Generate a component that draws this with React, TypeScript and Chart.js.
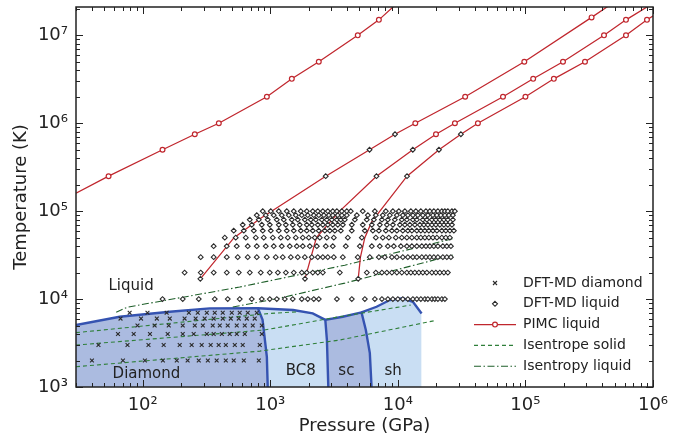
import React, { useEffect, useRef } from 'react';
import { Chart, registerables } from 'chart.js';

Chart.register(...registerables);

// ---------- axes ----------
const X_RANGE = [30, 1e6];
const Y_RANGE = [1e3, 2.1e7];
const X_MAJOR = [1e2, 1e3, 1e4, 1e5, 1e6];
const X_TICK_LABELS = ['10²', '10³', '10⁴', '10⁵', '10⁶'];
const Y_MAJOR = [1e3, 1e4, 1e5, 1e6, 1e7];
const Y_TICK_LABELS = ['10³', '10⁴', '10⁵', '10⁶', '10⁷'];
const X_TITLE = 'Pressure (GPa)';
const Y_TITLE = 'Temperature (K)';
const LEGEND_LABELS = ['DFT-MD diamond', 'DFT-MD liquid', 'PIMC liquid', 'Isentrope solid', 'Isentropy liquid'];

// ---------- DFT-MD diamond (pressure GPa per temperature row) ----------
const DIA_T = [2000, 3000, 4000, 5000, 6000, 7000];
const DIA_P_2000 = [40, 70, 104, 144, 185, 225, 275, 324, 380, 448, 517, 620, 813];
const DIA_P_3000 = [45, 76, 111, 146, 195, 242, 290, 341, 394, 448, 527, 608, 827];
const DIA_P_4000 = [64, 85, 114, 157, 206, 251, 318, 360, 417, 481, 546, 631, 858];
const DIA_P_5000 = [91, 124, 160, 206, 256, 296, 354, 402, 464, 546, 631, 729, 858];
const DIA_P_6000 = [67, 97, 129, 163, 213, 260, 306, 360, 424, 490, 566, 654, 755];
const DIA_P_7000 = [79, 109, 154, 230, 270, 318, 367, 424, 499, 576, 666, 784];
const DIA_P = [DIA_P_2000, DIA_P_3000, DIA_P_4000, DIA_P_5000, DIA_P_6000, DIA_P_7000];

// ---------- DFT-MD liquid ----------
const LIQ_T = [1e4, 2e4, 3e4, 4e4, 5e4, 6e4, 7e4, 8e4, 9e4, 1e5];
const LIQ_P_10K = [143, 206, 275, 367, 464, 576, 716, 858, 991, 1125, 1300, 1500, 1766, 1968, 2193, 2400, 3327, 4355, 5510, 6600, 7500, 8350, 9140, 10000, 10940, 11980, 13120, 14090, 15140, 16290, 17190, 18490, 19500, 20600, 22130, 23370];
const LIQ_P_20K = [213, 285, 360, 456, 566, 691, 842, 991, 1146, 1324, 1528, 1766, 1932, 2153, 2358, 2582, 3508, 5710, 6720, 7500, 8200, 8980, 9820, 10740, 11770, 12650, 13590, 14620, 15700, 16880, 18490, 19860, 21340, 22960, 24660];
const LIQ_P_30K = [285, 360, 456, 556, 666, 784, 939, 1104, 1253, 1449, 1643, 1866, 2115, 2358, 2582, 2825, 3148, 3704, 4850, 6030, 7100, 7900, 8980, 9820, 10940, 11980, 13120, 14090, 15420, 16600, 17820, 19150, 20600, 22540, 24210, 26060];
const LIQ_P_40K = [360, 456, 546, 666, 784, 922, 1065, 1231, 1422, 1614, 1798, 2041, 2317, 2724, 3090, 3909, 5040, 6250, 7220, 8350, 9300, 10560, 11770, 12880, 14090, 15420, 16600, 17820, 19150, 20600, 22540, 24210, 26060];
const LIQ_P_50K = [440, 536, 643, 770, 889, 1047, 1209, 1372, 1585, 1798, 2004, 2233, 2445, 2773, 3148, 4055, 5220, 6720, 7620, 8500, 9640, 10740, 11770, 12880, 14090, 15140, 16290, 17500, 18840, 20230, 22130, 23790, 25580];
const LIQ_P_60K = [517, 620, 743, 873, 1009, 1166, 1347, 1528, 1734, 1932, 2153, 2400, 2675, 2929, 3206, 3572, 4355, 5510, 6370, 7100, 8050, 8980, 9820, 10940, 11980, 12880, 14090, 15140, 16290, 17500, 18840, 20230, 22130, 23770, 25580, 27480];
const LIQ_P_70K = [608, 716, 858, 991, 1166, 1324, 1500, 1702, 1932, 2115, 2358, 2582, 2825, 3090, 3383, 3704, 4355, 5310, 6250, 7220, 8200, 9140, 10370, 11350, 12420, 13590, 14880, 16000, 17190, 18490, 19860, 21340, 22960, 24660, 26550];
const LIQ_P_80K = [691, 813, 955, 1125, 1276, 1475, 1643, 1866, 2078, 2275, 2535, 2773, 3034, 3327, 3572, 3837, 4603, 5710, 6490, 7500, 8350, 9470, 10740, 11770, 13120, 14090, 15700, 16880, 18490, 19860, 21340, 22960, 24660, 27000];
const LIQ_P_90K = [784, 922, 1065, 1231, 1397, 1585, 1766, 1968, 2193, 2400, 2630, 2877, 3090, 3383, 3637, 3981, 4770, 5820, 6720, 7620, 8650, 9820, 10940, 11980, 13120, 14350, 15700, 17190, 18840, 20230, 21730, 23370, 25120, 27000];
const LIQ_P_100K = [873, 1009, 1166, 1347, 1528, 1734, 1932, 2153, 2358, 2582, 2825, 3090, 3327, 3637, 3981, 4275, 5310, 6600, 8050, 9140, 10180, 11350, 12650, 13840, 15140, 16600, 17820, 19150, 20600, 22130, 23370, 24660, 26550, 27990];
const LIQ_P = [LIQ_P_10K, LIQ_P_20K, LIQ_P_30K, LIQ_P_40K, LIQ_P_50K, LIQ_P_60K, LIQ_P_70K, LIQ_P_80K, LIQ_P_90K, LIQ_P_100K];
// DFT-MD liquid points lying on the PIMC isochores
const LIQ_EXTRA_P = [283, 1870, 4890, 2720, 6800, 11800, 6000, 13100, 21000, 9500, 31200];
const LIQ_EXTRA_T = [1.7e4, 1.7e4, 1.7e4, 2.5e5, 2.5e5, 2.5e5, 5e5, 5e5, 5e5, 7.5e5, 7.5e5];

// ---------- PIMC liquid isochores (MARK = 1 where a PIMC point sits) ----------
const PIMC_A_P = [30, 54, 143, 256, 395, 940, 1475, 2400, 4850, 7100, 12600];
const PIMC_A_T = [1.6e5, 2.5e5, 5e5, 7.5e5, 1e6, 2e6, 3.2e6, 5e6, 1e7, 1.5e7, 3.2e7];
const PIMC_A_MARK = [0, 1, 1, 1, 1, 1, 1, 1, 1, 1, 0];
const PIMC_B_P = [283, 520, 830, 2720, 6000, 9500, 13700, 33700, 98000, 330000, 670000];
const PIMC_B_T = [1.7e4, 5e4, 8.2e4, 2.5e5, 5e5, 7.5e5, 1e6, 2e6, 5e6, 1.6e7, 3.2e7];
const PIMC_B_MARK = [0, 0, 0, 0, 0, 0, 1, 1, 1, 1, 0];
const PIMC_C_P = [1870, 2300, 3500, 6800, 13100, 19900, 28000, 66700, 115000, 197000, 413000, 614000, 1440000];
const PIMC_C_T = [1.7e4, 5e4, 1e5, 2.5e5, 5e5, 7.5e5, 1e6, 2e6, 3.2e6, 5e6, 1e7, 1.5e7, 3.2e7];
const PIMC_C_MARK = [0, 0, 0, 0, 0, 1, 1, 1, 1, 1, 1, 1, 0];
const PIMC_D_P = [4890, 5090, 5510, 6220, 7230, 11800, 21000, 31200, 42400, 100000, 167000, 293000, 614000, 897000, 1630000];
const PIMC_D_T = [1.7e4, 3e4, 5e4, 7.5e4, 1e5, 2.5e5, 5e5, 7.5e5, 1e6, 2e6, 3.2e6, 5e6, 1e7, 1.5e7, 2.6e7];
const PIMC_D_MARK = [0, 0, 0, 0, 0, 0, 0, 0, 1, 1, 1, 1, 1, 1, 0];

// ---------- isentropes ----------
const S1_P = [30, 990, 1610];
const S1_T = [4150, 6870, 7150];
const S2_P = [30, 900, 3500, 12600];
const S2_T = [3000, 4450, 6300, 8540];
const S3_P = [30, 830, 3500, 19150];
const S3_T = [1700, 2560, 3420, 5660];
const L1_P = [62, 76, 576, 3840, 28000];
const L1_T = [7100, 8100, 13700, 24300, 49300];
const L2_P = [508, 1188, 3840, 27000];
const L2_T = [8110, 10260, 15200, 31600];

// ---------- phase regions (boundary curves) ----------
const DIAMOND_P = [30, 66, 163, 335, 800, 870, 940, 955];
const DIAMOND_T = [5070, 6300, 7180, 7830, 7870, 5800, 2200, 1000];
const BC8_P = [800, 1510, 2150, 2700, 2780, 2850];
const BC8_T = [7870, 7500, 6870, 5800, 3400, 1000];
const SC_P = [2700, 3700, 5190, 5610, 6030, 6220];
const SC_T = [5800, 6300, 7060, 4450, 2430, 1000];
const SH_P = [5190, 6810, 8650, 10940, 13120, 15350];
const SH_T = [7060, 8180, 9750, 10200, 9310, 6870];

// ---------- region labels ----------
const REGION_LABELS = ['Liquid', 'Diamond', 'BC8', 'sc', 'sh'];
const REGION_P = [81, 107, 1730, 3950, 9180];
const REGION_T = [12650, 1265, 1387, 1387, 1387];

// ---------- styles ----------
const FONT = "'DejaVu Sans', 'Liberation Sans', sans-serif";
const RED = '#c0262d';
const BLUE = '#3553b1';
const FILL_DARK = '#abbbe0';
const FILL_LIGHT = '#c9def3';
const GREEN = '#2f7f3a';
const GREEN_DARK = '#1f5f2a';
const INK = '#222222';
const DASH_SOLID = [4, 3];
const DASH_LIQ = [7, 2.5, 1.5, 2.5];

const pts = (P: number[], T: number[]) => P.map((x, i) => ({ x, y: T[i] }));

const diamondPts = DIA_T.flatMap((T, i) => DIA_P[i].map((x) => ({ x, y: T })));
const liquidPts = LIQ_T.flatMap((T, i) => LIQ_P[i].map((x) => ({ x, y: T })))
  .concat(pts(LIQ_EXTRA_P, LIQ_EXTRA_T));

const pimcDataset = (P: number[], T: number[], M: number[]) => ({
  data: pts(P, T),
  showLine: true,
  borderColor: RED,
  borderWidth: 1.25,
  pointStyle: 'circle',
  pointRadius: M.map((m) => (m ? 2.4 : 0)),
  pointBorderColor: RED,
  pointBackgroundColor: '#ffffff',
  pointBorderWidth: 1.2,
  tension: 0,
  fill: false,
});

const lineDataset = (P: number[], T: number[], color: string, dash: number[]) => ({
  data: pts(P, T),
  showLine: true,
  borderColor: color,
  borderWidth: 1.1,
  borderDash: dash,
  pointRadius: 0,
  tension: 0,
  fill: false,
});

const regionDataset = (P: number[], T: number[], fillColor: string) => ({
  data: pts(P, T),
  showLine: true,
  borderColor: BLUE,
  borderWidth: 2.4,
  backgroundColor: fillColor,
  pointRadius: 0,
  tension: 0,
  fill: 'start',
});

const intSignificand = (v: number) => {
  const e = Math.floor(Math.log10(v) + 1e-9);
  const s = v / Math.pow(10, e);
  return Math.abs(s - Math.round(s)) < 1e-6;
};
const isIn = (v: number, list: number[]) => list.findIndex((m) => Math.abs(v / m - 1) < 1e-6);

const overlayPlugin = {
  id: 'overlay',
  afterDatasetsDraw(chart: any) {
    const { ctx, chartArea: a } = chart;
    const xs = chart.scales.x;
    const ys = chart.scales.y;
    ctx.save();
    // region labels
    ctx.fillStyle = INK;
    ctx.font = `15px ${FONT}`;
    ctx.textAlign = 'center';
    ctx.textBaseline = 'alphabetic';
    REGION_LABELS.forEach((lab, i) => {
      ctx.fillText(lab, xs.getPixelForValue(REGION_P[i]), ys.getPixelForValue(REGION_T[i]));
    });
    // ticks
    ctx.strokeStyle = INK;
    ctx.lineWidth = 1;
    ctx.beginPath();
    for (const t of xs.ticks) {
      const v = t.value;
      if (v < X_RANGE[0] * 0.999 || v > X_RANGE[1] * 1.001 || !intSignificand(v)) continue;
      const len = isIn(v, X_MAJOR) >= 0 ? 7 : 4;
      const p = Math.round(xs.getPixelForValue(v)) + 0.5;
      ctx.moveTo(p, a.bottom); ctx.lineTo(p, a.bottom - len);
      ctx.moveTo(p, a.top); ctx.lineTo(p, a.top + len);
    }
    for (const t of ys.ticks) {
      const v = t.value;
      if (v < Y_RANGE[0] * 0.999 || v > Y_RANGE[1] * 1.001 || !intSignificand(v)) continue;
      const len = isIn(v, Y_MAJOR) >= 0 ? 7 : 4;
      const p = Math.round(ys.getPixelForValue(v)) + 0.5;
      ctx.moveTo(a.left, p); ctx.lineTo(a.left + len, p);
      ctx.moveTo(a.right, p); ctx.lineTo(a.right - len, p);
    }
    ctx.stroke();
    ctx.lineWidth = 1.5;
    ctx.strokeRect(a.left, a.top, a.right - a.left, a.bottom - a.top);

    // legend
    const lx0 = a.right - 179;
    const lx1 = a.right - 137;
    const mx = (lx0 + lx1) / 2;
    const tx = a.right - 130;
    const rowY = (i: number) => a.bottom - 104 + i * 20.8;
    ctx.font = `14px ${FONT}`;
    ctx.textAlign = 'left';
    ctx.textBaseline = 'middle';
    LEGEND_LABELS.forEach((lab, i) => {
      const y = rowY(i);
      ctx.save();
      if (i === 0) {
        ctx.strokeStyle = '#2b2b2b'; ctx.lineWidth = 1.1;
        ctx.beginPath();
        ctx.moveTo(mx - 2, y - 2); ctx.lineTo(mx + 2, y + 2);
        ctx.moveTo(mx - 2, y + 2); ctx.lineTo(mx + 2, y - 2);
        ctx.stroke();
      } else if (i === 1) {
        ctx.strokeStyle = '#2a2a2a'; ctx.lineWidth = 1.1; ctx.fillStyle = '#fff';
        ctx.beginPath();
        ctx.moveTo(mx, y - 2.5); ctx.lineTo(mx + 2.5, y); ctx.lineTo(mx, y + 2.5); ctx.lineTo(mx - 2.5, y); ctx.closePath();
        ctx.fill(); ctx.stroke();
      } else if (i === 2) {
        ctx.strokeStyle = RED; ctx.lineWidth = 1.2;
        ctx.beginPath(); ctx.moveTo(lx0, y); ctx.lineTo(lx1, y); ctx.stroke();
        ctx.fillStyle = '#fff'; ctx.lineWidth = 1.2;
        ctx.beginPath(); ctx.arc(mx, y, 2.4, 0, Math.PI * 2); ctx.fill(); ctx.stroke();
      } else {
        ctx.strokeStyle = i === 3 ? GREEN : GREEN_DARK; ctx.lineWidth = 1.1;
        ctx.setLineDash(i === 3 ? DASH_SOLID : DASH_LIQ);
        ctx.beginPath(); ctx.moveTo(lx0, y); ctx.lineTo(lx1, y); ctx.stroke();
      }
      ctx.restore();
      ctx.fillStyle = INK;
      ctx.fillText(lab, tx, y);
    });
    ctx.restore();
  },
};

export default function App() {
  const ref = useRef<HTMLCanvasElement>(null);
  useEffect(() => {
    const canvas = ref.current;
    if (!canvas) return;
    Chart.defaults.font.family = FONT;
    Chart.defaults.color = INK;
    const chart = new Chart(canvas, {
      type: 'line',
      data: {
        datasets: [
          {
            data: diamondPts, showLine: false, pointStyle: 'crossRot', pointRadius: 2.7,
            pointBorderColor: '#2b2b2b', pointBorderWidth: 1.1, borderColor: '#2b2b2b',
          },
          {
            data: liquidPts, showLine: false, pointStyle: 'rectRot', pointRadius: 2.4,
            pointBorderColor: '#2a2a2a', pointBackgroundColor: '#ffffff', pointBorderWidth: 1.1, borderColor: '#2a2a2a',
          },
          pimcDataset(PIMC_A_P, PIMC_A_T, PIMC_A_MARK),
          pimcDataset(PIMC_B_P, PIMC_B_T, PIMC_B_MARK),
          pimcDataset(PIMC_C_P, PIMC_C_T, PIMC_C_MARK),
          pimcDataset(PIMC_D_P, PIMC_D_T, PIMC_D_MARK),
          lineDataset(S1_P, S1_T, GREEN, DASH_SOLID),
          lineDataset(S2_P, S2_T, GREEN, DASH_SOLID),
          lineDataset(S3_P, S3_T, GREEN, DASH_SOLID),
          lineDataset(L1_P, L1_T, GREEN_DARK, DASH_LIQ),
          lineDataset(L2_P, L2_T, GREEN_DARK, DASH_LIQ),
          regionDataset(DIAMOND_P, DIAMOND_T, FILL_DARK),
          regionDataset(BC8_P, BC8_T, FILL_LIGHT),
          regionDataset(SC_P, SC_T, FILL_DARK),
          regionDataset(SH_P, SH_T, FILL_LIGHT),
        ] as any,
      },
      options: {
        responsive: false,
        animation: false,
        events: [],
        layout: { padding: { left: 0, right: 32, top: 7, bottom: 0 } },
        plugins: { legend: { display: false }, tooltip: { enabled: false } },
        scales: {
          x: {
            type: 'logarithmic',
            position: 'bottom',
            min: X_RANGE[0],
            max: X_RANGE[1],
            grid: { display: false, drawTicks: false },
            border: { display: false },
            ticks: {
              autoSkip: false, maxRotation: 0, padding: 8,
              font: { size: 18, family: FONT }, color: INK,
              callback: (v: any) => { const i = isIn(Number(v), X_MAJOR); return i >= 0 ? X_TICK_LABELS[i] : ''; },
            },
            title: { display: true, text: X_TITLE, font: { size: 18, family: FONT }, color: INK, padding: { top: 0, bottom: 1.5 } },
            afterFit: (s: any) => { s.height = 52; s.paddingLeft = 0; s.paddingRight = 0; },
          },
          y: {
            type: 'logarithmic',
            position: 'left',
            min: Y_RANGE[0],
            max: Y_RANGE[1],
            grid: { display: false, drawTicks: false },
            border: { display: false },
            ticks: {
              autoSkip: false, padding: 8,
              font: { size: 18, family: FONT }, color: INK,
              callback: (v: any) => { const i = isIn(Number(v), Y_MAJOR); return i >= 0 ? Y_TICK_LABELS[i] : ''; },
            },
            title: { display: true, text: Y_TITLE, font: { size: 18, family: FONT }, color: INK, padding: { top: 11, bottom: 0 } },
            afterFit: (s: any) => { s.width = 76; s.paddingTop = 0; s.paddingBottom = 0; },
          },
        },
      } as any,
      plugins: [overlayPlugin],
    });
    return () => chart.destroy();
  }, []);
  return (
    <div style={{ position: 'fixed', left: 0, top: 0, width: 685, height: 439, background: '#ffffff' }}>
      <canvas ref={ref} width={685} height={439} style={{ display: 'block', width: 685, height: 439 }} />
    </div>
  );
}
